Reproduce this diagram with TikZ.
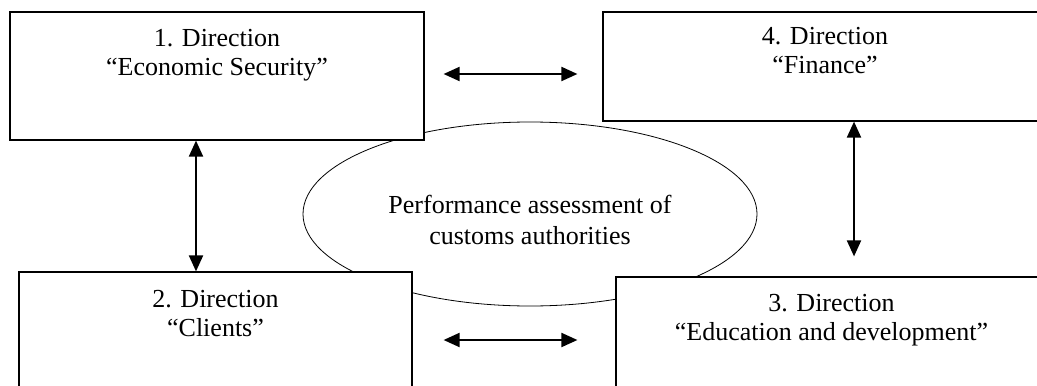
\documentclass[tikz,border=0pt]{standalone}
\usepackage{fontspec}
\setmainfont{Liberation Serif}
\usetikzlibrary{arrows.meta,shapes.geometric}

\begin{document}
\begin{tikzpicture}[x=0.5pt,y=-0.5pt,
    dirbox/.style={draw, fill=white, line width=0.6pt, inner sep=0pt},
    dirtext/.style={anchor=north, align=center, inner sep=0pt, font=\fontsize{13}{14.5}\selectfont},
    link/.style={<->, >={Triangle[length=8pt,width=7pt]}, line width=1pt}]
    \useasboundingbox (0,0) rectangle (1037,385);
    \clip (0,0) rectangle (1037,385);

    % Central ellipse
    \node[draw, ellipse, line width=0.4pt, inner sep=0pt, minimum width=227pt, minimum height=92pt] (goal) at (530,214) {};
    \node[align=center, font=\fontsize{13}{15.5}\selectfont] (goaltext) at ([yshift=-3pt]goal.center)
          {Performance assessment of\\customs authorities};

    % Direction boxes
    \node[dirbox, minimum width=207pt, minimum height=64pt] (b1) at (217,76) {};
    \node[dirbox, minimum width=222pt, minimum height=54.5pt] (b4) at (825,66.5) {};
    \node[dirbox, minimum width=196.5pt, minimum height=64pt] (b2) at (215.5,336) {};
    \node[dirbox, minimum width=215.5pt, minimum height=64pt] (b3) at (831.5,341) {};

    % Box texts
    \node[dirtext] (t1) at ([yshift=-8.6pt]b1.north) {1. Direction\\``Economic Security''};
    \node[dirtext] (t4) at ([yshift=-7.6pt]b4.north) {4. Direction\\``Finance''};
    \node[dirtext] (t2) at ([yshift=-9pt]b2.north) {2. Direction\\``Clients''};
    \node[dirtext] (t3) at ([yshift=-8.6pt]b3.north) {3. Direction\\``Education and development''};

    % Arrows between directions
    \draw[link, shorten <=9.5pt, shorten >=12.5pt] ([yshift=1pt]b1.east) -- ([yshift=1pt]b1.east -| b4.west);
    \draw[link, shorten <=15.5pt, shorten >=19pt] ([yshift=-2pt]b2.east) -- ([yshift=-2pt]b2.east -| b3.west);
    \draw[link] ([xshift=-10.5pt]b1.south) -- ([xshift=-10.5pt]b1.south |- b2.north);
    \draw[link, shorten >=10pt] ([xshift=14.5pt]b4.south) -- ([xshift=14.5pt]b4.south |- b3.north);
\end{tikzpicture}
\end{document}
